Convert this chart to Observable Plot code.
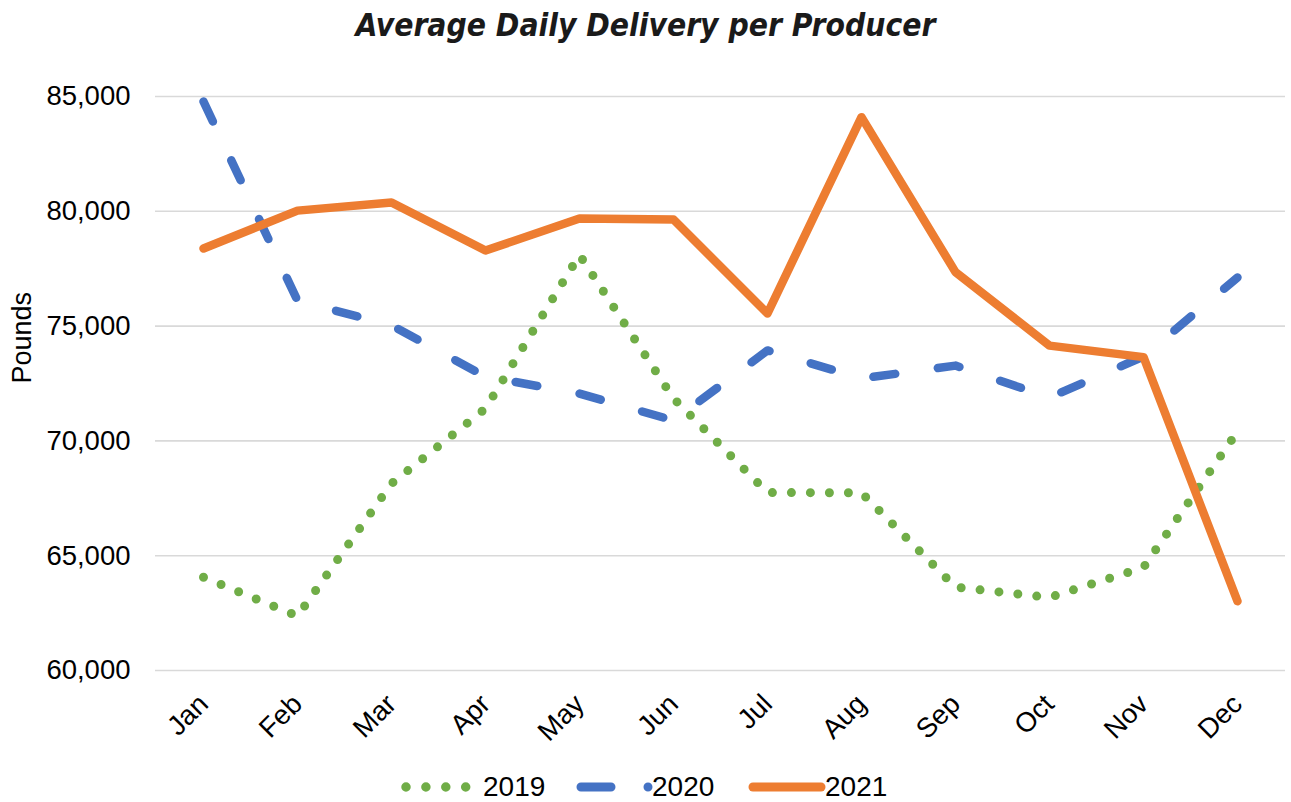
<!DOCTYPE html>
<html>
<head>
<meta charset="utf-8">
<script src="https://cdn.jsdelivr.net/npm/d3@7"></script>
<script src="https://cdn.jsdelivr.net/npm/@observablehq/plot@0.6"></script>
<style>
  body { margin: 0; background: #fff; width: 1291px; height: 802px; overflow: hidden; position: relative;
         font-family: "Liberation Sans", Arial, sans-serif; }
  #title { height: 50px; line-height: 50px; text-align: center;
           font-family: "DejaVu Sans Condensed", "DejaVu Sans", sans-serif; font-stretch: condensed;
           font-weight: bold; font-style: italic; font-size: 31.5px; color: #1a1a1a; }
  #chart svg { display: block; }
  .lg { position: absolute; top: 770px; height: 34px; }
  .lgt { position: absolute; top: 770px; height: 34px; line-height: 34px; font-size: 28px; color: #000; }
</style>
</head>
<body>
<div id="title">Average Daily Delivery per Producer</div>
<div id="chart"></div>
<div id="legend"></div>
<script>
const months = ["Jan","Feb","Mar","Apr","May","Jun","Jul","Aug","Sep","Oct","Nov","Dec"];
const series = ["2019","2020","2021"];
const values2019 = [64060, 62370, 68140, 71410, 78100, 71850, 67750, 67740, 63630, 63180, 64490, 70410];
const values2020 = [84780, 76110, 75030, 72800, 72060, 70890, 73940, 72720, 73280, 71890, 73680, 77120];
const values2021 = [78380, 80030, 80380, 78290, 79690, 79640, 75550, 84100, 77350, 74150, 73650, 63020];
const yTicks = [60000, 65000, 70000, 75000, 80000, 85000];
const colors = {"2019": "#70AD47", "2020": "#4472C4", "2021": "#ED7D31"};

const d19 = months.map((m, i) => ({month: m, value: values2019[i]}));
const d20 = months.map((m, i) => ({month: m, value: values2020[i]}));
const d21 = months.map((m, i) => ({month: m, value: values2021[i]}));

const chart = Plot.plot({
  width: 1291,
  height: 700,
  marginLeft: 155,
  marginRight: 6,
  marginTop: 46,
  marginBottom: 80,
  style: {fontFamily: "'Liberation Sans', Arial, sans-serif", fontSize: "27.5px", color: "#000", background: "#fff"},
  x: {type: "point", domain: months, padding: 0.5, label: null},
  y: {domain: [60000, 85000], label: null},
  marks: [
    Plot.gridY(yTicks, {stroke: "#d9d9d9", strokeOpacity: 1, strokeWidth: 1.6}),
    Plot.axisY(yTicks, {tickFormat: d3.format(","), tickSize: 0, tickPadding: 25, label: null, fontSize: 27.5}),
    Plot.axisX({tickSize: 0, tickRotate: -45, tickPadding: 29, label: null, fontSize: 27.5}),
    Plot.text(["Pounds"], {frameAnchor: "left", dx: -133, rotate: -90, fontSize: 27, fill: "#000"}),
    Plot.lineY(d19, {x: "month", y: "value", stroke: colors["2019"], strokeWidth: 9,
      strokeDasharray: "0,19", strokeLinecap: "round", strokeLinejoin: "round"}),
    Plot.lineY(d20, {x: "month", y: "value", stroke: colors["2020"], strokeWidth: 8.5,
      strokeDasharray: "22,43", strokeLinecap: "round", strokeLinejoin: "round"}),
    Plot.lineY(d21, {x: "month", y: "value", stroke: colors["2021"], strokeWidth: 8.5,
      strokeLinecap: "round", strokeLinejoin: "round"})
  ]
});
document.getElementById("chart").appendChild(chart);

// Legend
const legendSpec = [
  {name: "2019", x0: 406, x1: 467, dash: "0,19.9", width: 9.5, tx: 483},
  {name: "2020", x0: 581, x1: 650, dash: "30,37,0,100", width: 9, tx: 652},
  {name: "2021", x0: 753, x1: 821, dash: null, width: 9, tx: 825}
];
const legend = document.getElementById("legend");
legendSpec.forEach(s => {
  const svg = d3.create("svg").attr("class", "lg")
    .attr("width", s.x1 - s.x0 + 12).attr("height", 34)
    .style("left", (s.x0 - 6) + "px");
  const ln = svg.append("line")
    .attr("x1", 6).attr("x2", s.x1 - s.x0 + 6).attr("y1", 17).attr("y2", 17)
    .attr("stroke", colors[s.name]).attr("stroke-width", s.width)
    .attr("stroke-linecap", "round");
  if (s.dash) ln.attr("stroke-dasharray", s.dash);
  legend.appendChild(svg.node());
  const t = document.createElement("div");
  t.className = "lgt";
  t.style.left = s.tx + "px";
  t.textContent = s.name;
  legend.appendChild(t);
});
</script>
</body>
</html>
